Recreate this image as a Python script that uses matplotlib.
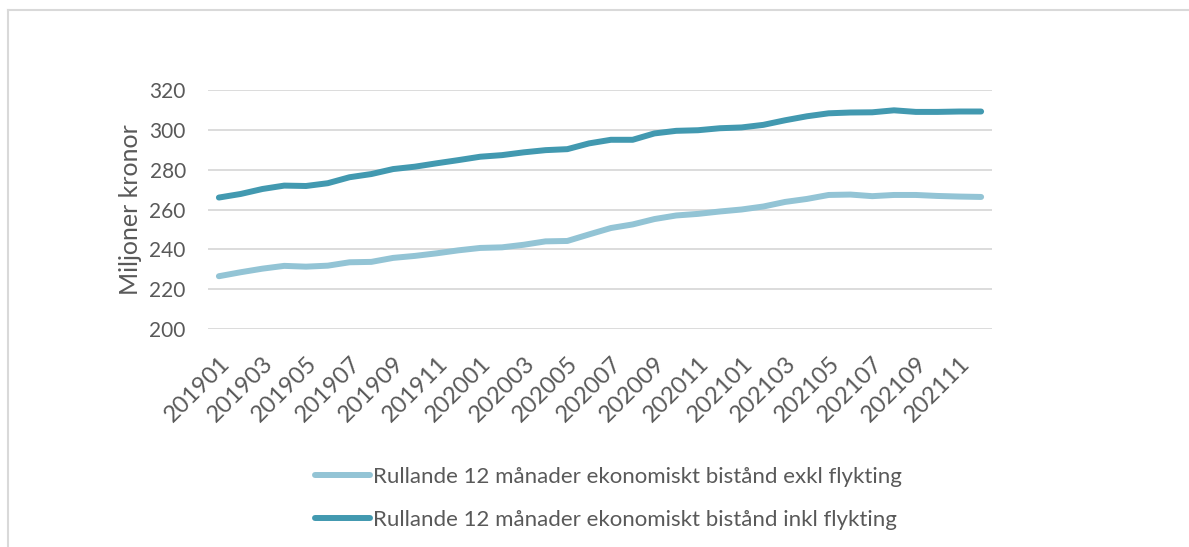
import matplotlib.pyplot as plt
from matplotlib.lines import Line2D

plt.rcParams['font.family'] = ['Lato', 'DejaVu Sans']

# månader 201901 - 202112
manader = [f'{y}{m:02d}' for y in (2019, 2020, 2021) for m in range(1, 13)]

exkl = [226.5, 228.5, 230.3, 231.7, 231.3, 231.8, 233.5, 233.7, 235.7, 236.7,
        238.0, 239.5, 240.7, 241.0, 242.3, 244.0, 244.2, 247.5, 250.7, 252.5,
        255.2, 257.0, 257.8, 259.0, 260.0, 261.5, 263.8, 265.3, 267.3, 267.5,
        266.7, 267.3, 267.3, 266.8, 266.5, 266.3]
inkl = [266.0, 267.8, 270.3, 272.0, 271.8, 273.2, 276.2, 277.8, 280.3, 281.5,
        283.2, 284.8, 286.5, 287.3, 288.7, 289.8, 290.3, 293.2, 295.0, 295.0,
        298.2, 299.5, 299.8, 300.8, 301.2, 302.5, 304.8, 306.8, 308.3, 308.7,
        308.8, 309.8, 309.0, 309.0, 309.2, 309.2]

namn_exkl = 'Rullande 12 månader ekonomiskt bistånd exkl flykting'
namn_inkl = 'Rullande 12 månader ekonomiskt bistånd inkl flykting'

ljus = '#93c4d5'
mork = '#4299b0'
text_farg = '#595959'

fig = plt.figure(figsize=(11.89, 5.47), dpi=100)
ax = fig.add_axes([208 / 1189, 218 / 547, 784 / 1189, 239 / 547])

x = range(len(manader))
ax.plot(x, exkl, color=ljus, linewidth=4.3, solid_capstyle='round', label=namn_exkl)
ax.plot(x, inkl, color=mork, linewidth=4.3, solid_capstyle='round', label=namn_inkl)

ax.set_xlim(-0.5, len(manader) - 0.5)
ax.set_ylim(200, 320)
ax.set_yticks(range(200, 321, 20))
ax.grid(axis='y', color='#d9d9d9', linewidth=1.3)
ax.set_axisbelow(True)
for s in ax.spines.values():
    s.set_visible(False)

ax.set_xticks(list(x)[::2])
ax.set_xticklabels(manader[::2], rotation=45, ha='right', va='top',
                   rotation_mode='anchor', fontsize=17, color=text_farg)
ax.tick_params(axis='both', length=0)
ax.tick_params(axis='x', pad=17)
ax.tick_params(axis='y', pad=16, labelsize=15, labelcolor=text_farg)
ax.set_ylabel('Miljoner kronor', fontsize=18, color=text_farg, labelpad=5)

fig.legend(loc='upper left', bbox_to_anchor=(306 / 1189, 1 - 458 / 547),
           frameon=False, fontsize=16, labelcolor=text_farg,
           handlelength=2.5, handletextpad=0.1, labelspacing=1.05,
           borderaxespad=0)

# ram
fig.add_artist(Line2D([8 / 1189, 1], [1 - 10 / 547] * 2, color='#d9d9d9',
                      linewidth=1.5, transform=fig.transFigure))
fig.add_artist(Line2D([8 / 1189] * 2, [0, 1 - 10 / 547], color='#d9d9d9',
                      linewidth=1.5, transform=fig.transFigure))

fig.savefig('out.png', dpi=100)
